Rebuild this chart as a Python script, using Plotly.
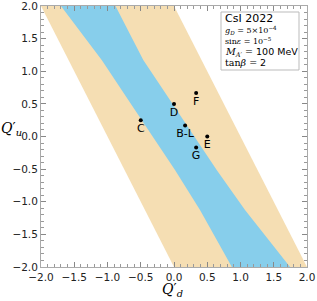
import plotly.graph_objects as go

# Orange (wide) allowed band: polygon vertices (Q'_d, Q'_u)
orange_qd = [-2.0, 0.0, 2.0, 0.0]
orange_qu = [2.0, 2.0, -2.0, -2.0]

# Blue (narrow) band edges
blue_left_qu = [2.0, 1.172, 0.559, -0.513, -1.126, -2.0]
blue_left_qd = [-1.70, -1.087, -0.687, 0.015, 0.391, 0.87]
blue_right_qu = [2.0, 1.172, 0.559, -0.513, -1.126, -2.0]
blue_right_qd = [-0.88, -0.462, -0.060, 0.642, 1.068, 1.745]

# Benchmark models
model_names = ["C", "D", "F", "B-L", "E", "G"]
model_qd = [-0.5, 0.0, 0.333, 0.167, 0.5, 0.333]
model_qu = [0.25, 0.5, 0.667, 0.167, 0.0, -0.167]

tick_vals = [-2.0, -1.5, -1.0, -0.5, 0.0, 0.5, 1.0, 1.5, 2.0]

ORANGE = "#F5DEB3"
BLUE = "#87CEEB"

fig = go.Figure()
fig.add_trace(go.Scatter(x=orange_qd, y=orange_qu, fill="toself", mode="lines",
                         line=dict(width=0), fillcolor=ORANGE, hoverinfo="skip"))
fig.add_trace(go.Scatter(x=blue_left_qd + blue_right_qd[::-1],
                         y=blue_left_qu + blue_right_qu[::-1],
                         fill="toself", mode="lines", line=dict(width=0),
                         fillcolor=BLUE, hoverinfo="skip"))
fig.add_trace(go.Scatter(x=model_qd, y=model_qu, mode="markers+text",
                         text=model_names, textposition="bottom center",
                         marker=dict(color="black", size=4),
                         textfont=dict(family="DejaVu Sans", size=11, color="black")))

axis_common = dict(range=[-2, 2], tickvals=tick_vals, tickformat=".1f",
                   ticks="inside", ticklen=5, tickwidth=1, tickcolor="#888888",
                   showline=True, linecolor="#aaaaaa", linewidth=1, mirror="ticks",
                   showgrid=False, zeroline=False, automargin=False,
                   ticklabeloverflow="allow",
                   tickfont=dict(family="DejaVu Sans", size=10.5, color="#222222"),
                   minor=dict(dtick=0.1, ticks="inside", ticklen=3, tickcolor="#999999",
                              showgrid=False))
fig.update_xaxes(**axis_common)
fig.update_yaxes(**axis_common)

serif = "DejaVu Serif"
annos = []
box_lines = [
    ("CsI 2022", 19, "DejaVu Sans", 11),
    ("<i>g<sub>D</sub></i> = 5×10<sup>−4</sup>", 30.5, serif, 8),
    ("sin<i>ε</i> = 10<sup>−5</sup>", 41, serif, 8),
    ("<i>M<sub>A′</sub></i> = <span style='font-family:DejaVu Sans'>100 MeV</span>", 52, serif, 9.5),
    ("tan<i>β</i> = <span style='font-family:DejaVu Sans'>2</span>", 62.5, serif, 9.5),
]
for txt, py, fam, sz in box_lines:
    annos.append(dict(text=txt, xref="paper", yref="paper",
                      x=(223 - 41) / 266, y=(267 - py) / 261,
                      xanchor="left", yanchor="middle", showarrow=False,
                      font=dict(family=fam, size=sz, color="black")))
annos.append(dict(text="<i>Q</i>′<sub><i>d</i></sub>", xref="paper", yref="paper",
                  x=(172 - 41) / 266, y=(267 - 290) / 261, xanchor="center",
                  yanchor="middle", showarrow=False,
                  font=dict(family=serif, size=14, color="black")))
annos.append(dict(text="<i>Q</i>′<sub><i>u</i></sub>", xref="paper", yref="paper",
                  x=(11 - 41) / 266, y=(267 - 129) / 261, xanchor="center",
                  yanchor="middle", showarrow=False,
                  font=dict(family=serif, size=14, color="black")))

fig.update_layout(
    width=317, height=301,
    margin=dict(l=41, r=10, t=6, b=34, autoexpand=False),
    paper_bgcolor="white", plot_bgcolor="white",
    showlegend=False,
    annotations=annos,
    shapes=[dict(type="rect", xref="paper", yref="paper",
                 x0=(221 - 41) / 266, x1=(299 - 41) / 266,
                 y0=(267 - 70) / 261, y1=(267 - 12) / 261,
                 line=dict(color="#bbbbbb", width=1), fillcolor="white", layer="above")],
)
fig.write_html("out.html", config={"displayModeBar": False},
               post_script="document.body.style.margin='0';document.body.style.padding='0';")
